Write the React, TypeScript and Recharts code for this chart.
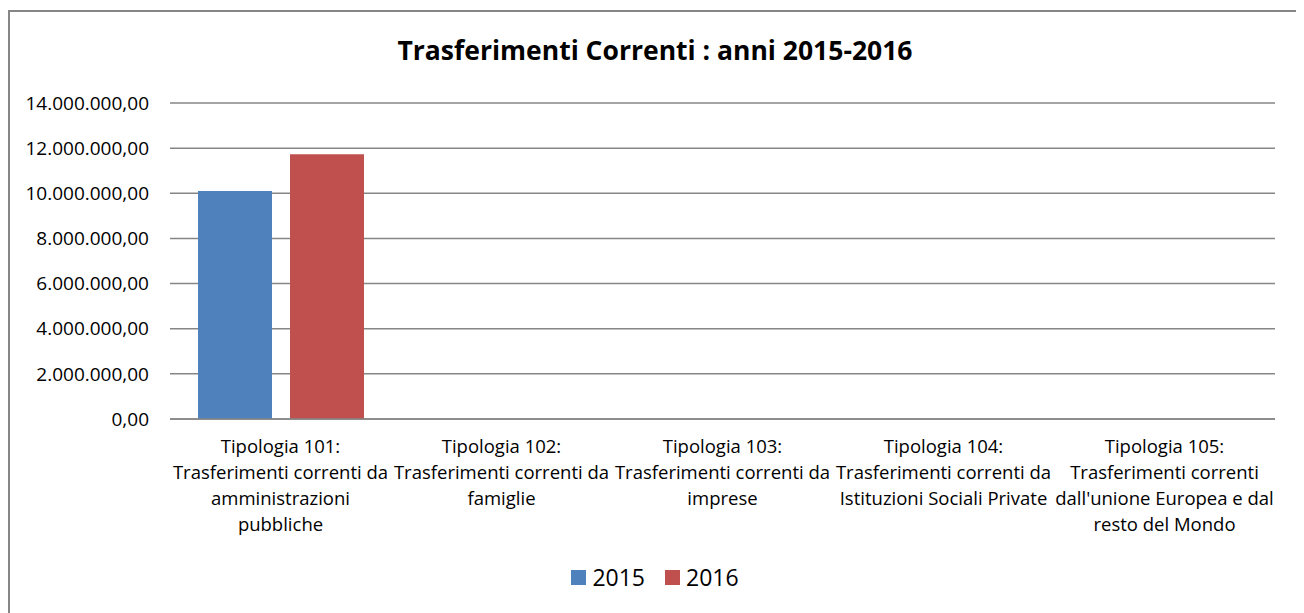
import React from 'react';
import { BarChart, Bar, XAxis, YAxis, CartesianGrid, Legend } from 'recharts';

const categories = [
  'Tipologia 101:\nTrasferimenti correnti da\namministrazioni\npubbliche',
  'Tipologia 102:\nTrasferimenti correnti da\nfamiglie',
  'Tipologia 103:\nTrasferimenti correnti da\nimprese',
  'Tipologia 104:\nTrasferimenti correnti da\nIstituzioni Sociali Private',
  "Tipologia 105:\nTrasferimenti correnti\ndall'unione Europea e dal\nresto del Mondo",
];
const values2015 = [10100000, 0, 0, 0, 0];
const values2016 = [11730000, 0, 0, 0, 0];
const yTicks = [0, 2000000, 4000000, 6000000, 8000000, 10000000, 12000000, 14000000];

const data = categories.map((name, i) => ({ name, y2015: values2015[i], y2016: values2016[i] }));

const FONT = '"Open Sans", Lato, sans-serif';
const GRID = '#868686';

const formatIt = (v: number) => {
  const int = Math.round(v).toString().replace(/\B(?=(\d{3})+(?!\d))/g, '.');
  return `${int},00`;
};

const CategoryTick = (props: any) => {
  const { x, y, payload } = props;
  const lines: string[] = String(payload.value).split('\n');
  return (
    <text x={x} y={y + 26} textAnchor="middle" fill="#000" fontSize={18.5} fontFamily={FONT}>
      {lines.map((l, i) => (
        <tspan key={i} x={x} dy={i === 0 ? 0 : 26}>
          {l}
        </tspan>
      ))}
    </text>
  );
};

const LegendContent = () => (
  <div style={{ display: 'flex', justifyContent: 'center', alignItems: 'center', fontFamily: FONT, fontSize: 23, color: '#000' }}>
    {[
      { label: '2015', color: '#4f81bd' },
      { label: '2016', color: '#c0504d' },
    ].map((it, i) => (
      <div key={it.label} style={{ display: 'flex', alignItems: 'center', marginLeft: i === 0 ? 0 : 20 }}>
        <span style={{ display: 'inline-block', width: 15, height: 15, background: it.color, marginRight: 6 }} />
        <span>{it.label}</span>
      </div>
    ))}
  </div>
);

export default function App() {
  return (
    <div style={{ width: 1294, height: 640, marginTop: 2, border: `2px solid ${GRID}`, boxSizing: 'border-box', position: 'relative', background: '#fff' }}>
      <div
        style={{
          position: 'absolute',
          top: 23,
          left: 0,
          width: 1290,
          textAlign: 'center',
          fontFamily: FONT,
          fontWeight: 700,
          fontSize: 26.5,
          lineHeight: '30px',
          color: '#000',
        }}
      >
        Trasferimenti Correnti : anni 2015-2016
      </div>
      <BarChart
        width={1290}
        height={620}
        data={data}
        margin={{ top: 91, right: 25, left: 10, bottom: 31 }}
        barSize={74}
        barGap={18}
      >
        <CartesianGrid vertical={false} stroke={GRID} strokeWidth={1.5} />
        <XAxis
          dataKey="name"
          height={150}
          interval={0}
          tickLine={false}
          axisLine={{ stroke: GRID, strokeWidth: 1.5 }}
          tick={<CategoryTick />}
        />
        <YAxis
          width={150}
          domain={[0, 14000000]}
          ticks={yTicks}
          tickFormatter={formatIt}
          axisLine={false}
          tickLine={false}
          tickMargin={15}
          tick={{ fill: '#000', fontSize: 19, fontFamily: FONT }}
        />
        <Legend content={<LegendContent />} wrapperStyle={{ top: 549, left: 0, width: 1290 }} />
        <Bar dataKey="y2015" fill="#4f81bd" isAnimationActive={false} />
        <Bar dataKey="y2016" fill="#c0504d" isAnimationActive={false} />
      </BarChart>
    </div>
  );
}
